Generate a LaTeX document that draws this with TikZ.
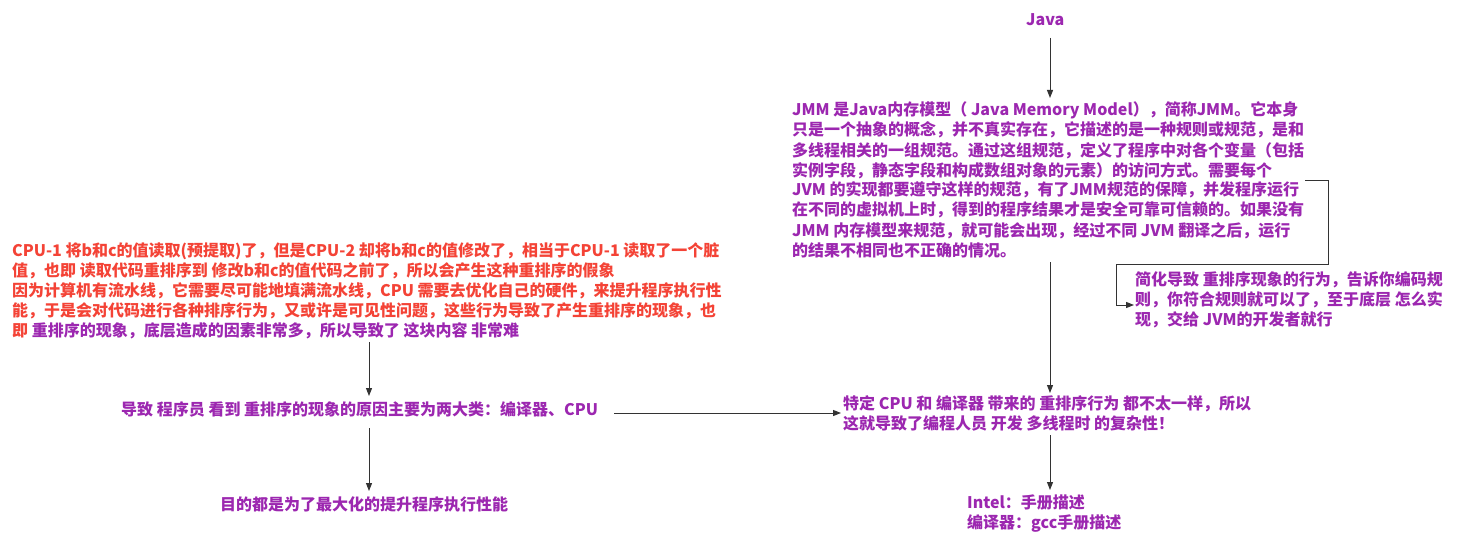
\documentclass[tikz,border=0pt]{standalone}
\usepackage{fontspec}
\setmainfont{Noto Sans CJK SC}
\usetikzlibrary{arrows.meta}
\definecolor{pur}{HTML}{9C27B0}
\definecolor{redt}{HTML}{F44336}
\definecolor{ln}{HTML}{333333}
\tikzset{
  txt/.style={anchor=base west, inner sep=0pt, align=left,
    font=\fontsize{16}{20}\selectfont\bfseries, text=pur},
  arr/.style={draw=ln, line width=1pt, -{Triangle[length=8pt,width=6pt]}}
}
\begin{document}
\begin{tikzpicture}[x=1pt,y=-1pt]
\useasboundingbox[fill=white] (0,0) rectangle (1479,553);

% base anchor = baseline of the last line
\node[txt] (java) at (1026,26) {Java};
\node[txt] (jmm) at (792,256) {JMM 是Java内存模型（ Java Memory Model），简称JMM。它本身\\
只是一个抽象的概念，并不真实存在，它描述的是一种规则或规范，是和\\
多线程相关的一组规范。通过这组规范，定义了程序中对各个变量（包括\\
实例字段，静态字段和构成数组对象的元素）的访问方式。需要每个\\
JVM 的实现都要遵守这样的规范，有了JMM规范的保障，并发程序运行\\
在不同的虚拟机上时，得到的程序结果才是安全可靠可信赖的。如果没有\\
JMM 内存模型来规范，就可能会出现，经过不同 JVM 翻译之后，运行\\
的结果不相同也不正确的情况。};
\node[txt] (simp) at (1135,325) {简化导致 重排序现象的行为，告诉你编码规\\
则，你符合规则就可以了，至于底层 怎么实\\
现，交给 JVM的开发者就行};
\node[txt] (spec) at (843,429) {特定 CPU 和 编译器 带来的 重排序行为 都不太一样，所以\\
这就导致了编程人员 开发 多线程时 的复杂性！};
\node[txt] (intel) at (967,528) {Intel：手册描述\\
编译器：gcc手册描述};

\node[txt, text=redt] (cpu) at (12,336) {CPU-1 将b和c的值读取(预提取)了，但是CPU-2 却将b和c的值修改了，相当于CPU-1 读取了一个脏\\
值，也即 读取代码重排序到 修改b和c的值代码之前了，所以会产生这种重排序的假象\\
因为计算机有流水线，它需要尽可能地填满流水线，CPU 需要去优化自己的硬件，来提升程序执行性\\
能，于是会对代码进行各种排序行为，又或许是可见性问题，这些行为导致了产生重排序的现象，也\\
即 \textcolor{pur}{重排序的现象，底层造成的因素非常多，所以导致了 这块内容 非常难}};
\node[txt] (cause) at (121,415) {导致 程序员 看到 重排序的现象的原因主要为两大类：编译器、CPU};
\node[txt] (goal) at (220,510) {目的都是为了最大化的提升程序执行性能};

% connector end points
\coordinate (a1) at (1050,38);  \coordinate (a2) at (1050,98);
\coordinate (b1) at (1050,262); \coordinate (b2) at (1050,393);
\coordinate (c1) at (1050,435); \coordinate (c2) at (1050,490);
\coordinate (d1) at (369,342);  \coordinate (d2) at (369,396);
\coordinate (e1) at (369,428);  \coordinate (e2) at (369,491);
\coordinate (f1) at (614,413);  \coordinate (f2) at (841,413);
\coordinate (g1) at (1305,181); \coordinate (g2) at (1134,305);

\draw[arr] (a1) -- (a2);
\draw[arr] (b1) -- (b2);
\draw[arr] (c1) -- (c2);
\draw[arr] (d1) -- (d2);
\draw[arr] (e1) -- (e2);
\draw[arr] (f1) -- (f2);
\draw[arr] (g1) -- (1328,181) -- (1328,264) -- (1116,264) -- (1116,305) -- (g2);
\end{tikzpicture}
\end{document}
